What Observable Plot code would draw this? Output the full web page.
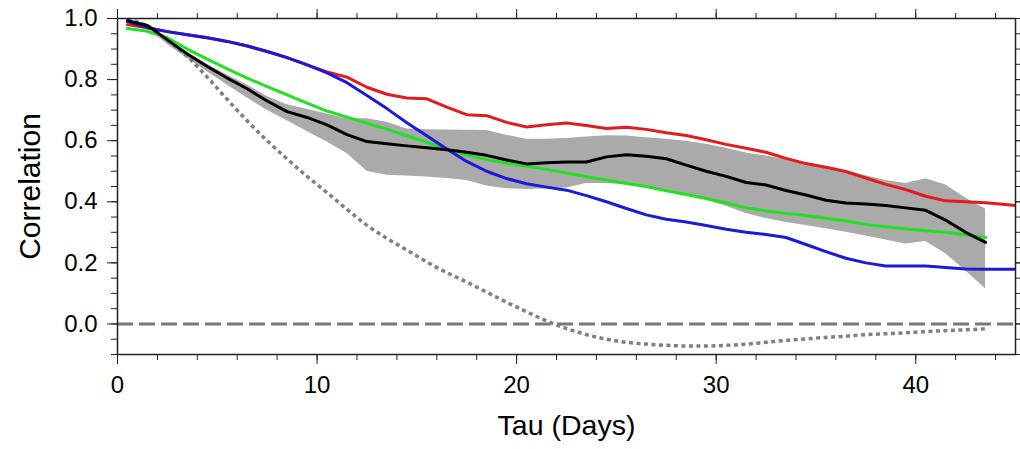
<!DOCTYPE html>
<html><head><meta charset="utf-8">
<script src="https://cdn.jsdelivr.net/npm/d3@7"></script>
<script src="https://cdn.jsdelivr.net/npm/@observablehq/plot@0.6"></script>
<style>body{margin:0;background:#fff;}</style>
</head><body><div id="chart"></div>
<script>
const tau = [0.5,1.5,2.5,3.5,4.5,5.5,6.5,7.5,8.5,9.5,10.5,11.5,12.5,13.5,14.5,15.5,16.5,17.5,18.5,19.5,20.5,21.5,22.5,23.5,24.5,25.5,26.5,27.5,28.5,29.5,30.5,31.5,32.5,33.5,34.5,35.5,36.5,37.5,38.5,39.5,40.5,41.5,42.5,43.5,44.5,45.5];
const red = [0.98,0.97,0.957,0.947,0.937,0.925,0.91,0.892,0.872,0.848,0.825,0.808,0.775,0.752,0.74,0.737,0.71,0.685,0.682,0.66,0.645,0.652,0.658,0.65,0.64,0.644,0.637,0.626,0.617,0.603,0.588,0.575,0.562,0.542,0.525,0.513,0.499,0.478,0.457,0.44,0.418,0.403,0.4,0.397,0.391,0.385];
const blue = [0.99,0.97,0.957,0.947,0.937,0.925,0.91,0.892,0.872,0.848,0.822,0.79,0.748,0.705,0.659,0.616,0.573,0.532,0.5,0.476,0.459,0.448,0.438,0.42,0.4,0.378,0.357,0.343,0.334,0.322,0.31,0.3,0.293,0.283,0.26,0.237,0.215,0.2,0.19,0.19,0.19,0.185,0.18,0.179,0.179,0.179];
const green = [0.967,0.958,0.937,0.9,0.867,0.835,0.805,0.777,0.75,0.723,0.697,0.677,0.657,0.638,0.616,0.595,0.573,0.553,0.538,0.526,0.517,0.506,0.494,0.482,0.471,0.46,0.45,0.436,0.424,0.411,0.397,0.38,0.37,0.362,0.355,0.346,0.337,0.326,0.318,0.311,0.305,0.3,0.292,0.283];
const black = [0.993,0.977,0.93,0.884,0.843,0.805,0.77,0.73,0.695,0.676,0.652,0.62,0.597,0.59,0.583,0.577,0.57,0.562,0.552,0.537,0.524,0.528,0.53,0.53,0.547,0.554,0.549,0.541,0.52,0.5,0.483,0.463,0.455,0.437,0.422,0.405,0.396,0.393,0.388,0.38,0.372,0.34,0.3,0.267];
const bandHigh = [0.993,0.977,0.932,0.888,0.85,0.815,0.782,0.745,0.718,0.703,0.687,0.672,0.672,0.66,0.638,0.636,0.635,0.634,0.633,0.618,0.605,0.605,0.607,0.612,0.616,0.615,0.61,0.605,0.598,0.588,0.575,0.56,0.55,0.538,0.522,0.51,0.5,0.485,0.47,0.46,0.475,0.455,0.412,0.376];
const bandLow = [0.993,0.972,0.915,0.87,0.826,0.782,0.74,0.7,0.665,0.63,0.596,0.558,0.5,0.487,0.484,0.481,0.476,0.47,0.452,0.443,0.44,0.442,0.445,0.46,0.46,0.456,0.445,0.436,0.425,0.405,0.385,0.362,0.345,0.332,0.322,0.312,0.3,0.288,0.275,0.262,0.27,0.23,0.174,0.115];
const dotted = [0.997,0.975,0.93,0.875,0.808,0.735,0.665,0.6,0.54,0.483,0.43,0.375,0.323,0.28,0.242,0.203,0.168,0.137,0.104,0.071,0.04,0.01,-0.015,-0.035,-0.05,-0.06,-0.066,-0.07,-0.072,-0.072,-0.07,-0.066,-0.06,-0.054,-0.049,-0.044,-0.04,-0.035,-0.032,-0.029,-0.025,-0.022,-0.019,-0.016];
const xMajor = [0,10,20,30,40];
const xMinor = [0,2,4,6,8,10,12,14,16,18,20,22,24,26,28,30,32,34,36,38,40,42,44];
const yMajor = [0,0.2,0.4,0.6,0.8,1.0];
const yMinor = [-0.1,-0.05,0,0.05,0.1,0.15,0.2,0.25,0.3,0.35,0.4,0.45,0.5,0.55,0.6,0.65,0.7,0.75,0.8,0.85,0.9,0.95,1.0];
const xTitle = "Tau (Days)";
const yTitle = "Correlation";

const rows = (vals) => vals.map((v, i) => ({tau: tau[i], r: v}));
const band = bandLow.map((v, i) => ({tau: tau[i], lo: v, hi: bandHigh[i]}));
const font = "'Liberation Sans', Arial, Helvetica, sans-serif";
const axisColor = "#222";
const blank = () => "";

const chart = Plot.plot({
  width: 1020, height: 449,
  marginLeft: 117, marginRight: 5, marginTop: 18, marginBottom: 95,
  style: {fontFamily: font, background: "#fff", color: "#000", overflow: "visible"},
  x: {domain: [0, 45]},
  y: {domain: [-0.1, 1.0]},
  marks: [
    Plot.areaY(band, {x: "tau", y1: "lo", y2: "hi", fill: "#aaaaaa"}),
    Plot.ruleY([0], {stroke: "#777", strokeWidth: 3, strokeDasharray: "16,6", strokeLinecap: "butt"}),
    Plot.line(rows(dotted), {x: "tau", y: "r", stroke: "#808080", strokeWidth: 3.5, strokeDasharray: "4,3.5", strokeLinecap: "butt", curve: "monotone-x"}),
    Plot.line(rows(red), {x: "tau", y: "r", stroke: "#e41a1c", strokeWidth: 3, clip: true}),
    Plot.line(rows(green), {x: "tau", y: "r", stroke: "#22e022", strokeWidth: 3}),
    Plot.line(rows(blue), {x: "tau", y: "r", stroke: "#1a1ad8", strokeWidth: 3, clip: true}),
    Plot.line(rows(black), {x: "tau", y: "r", stroke: "#000", strokeWidth: 3}),
    Plot.axisX(xMajor, {anchor: "bottom", tickSize: 10, tickPadding: 11, fontSize: 24, stroke: axisColor, label: null}),
    Plot.axisX(xMinor, {anchor: "bottom", tickSize: 6, tickFormat: blank, stroke: axisColor, label: null}),
    Plot.axisX(xMajor, {anchor: "top", tickSize: 10, tickFormat: blank, stroke: axisColor, label: null}),
    Plot.axisX(xMinor, {anchor: "top", tickSize: 6, tickFormat: blank, stroke: axisColor, label: null}),
    Plot.axisY(yMajor, {anchor: "left", tickSize: 10, tickPadding: 10, fontSize: 24, tickFormat: d3.format(".1f"), stroke: axisColor, label: null}),
    Plot.axisY(yMinor, {anchor: "left", tickSize: 6, tickFormat: blank, stroke: axisColor, label: null}),
    Plot.axisY(yMajor, {anchor: "right", tickSize: 10, tickFormat: blank, stroke: axisColor, label: null}),
    Plot.axisY(yMinor, {anchor: "right", tickSize: 6, tickFormat: blank, stroke: axisColor, label: null}),
    Plot.frame({stroke: axisColor, strokeWidth: 1.5}),
    Plot.text([xTitle], {frameAnchor: "bottom", dy: 80, fontSize: 28.5, fill: "#000"}),
    Plot.text([yTitle], {frameAnchor: "left", dx: -87, rotate: -90, textAnchor: "middle", fontSize: 30, fill: "#000"})
  ]
});
document.getElementById("chart").appendChild(chart);
</script>
</body></html>
